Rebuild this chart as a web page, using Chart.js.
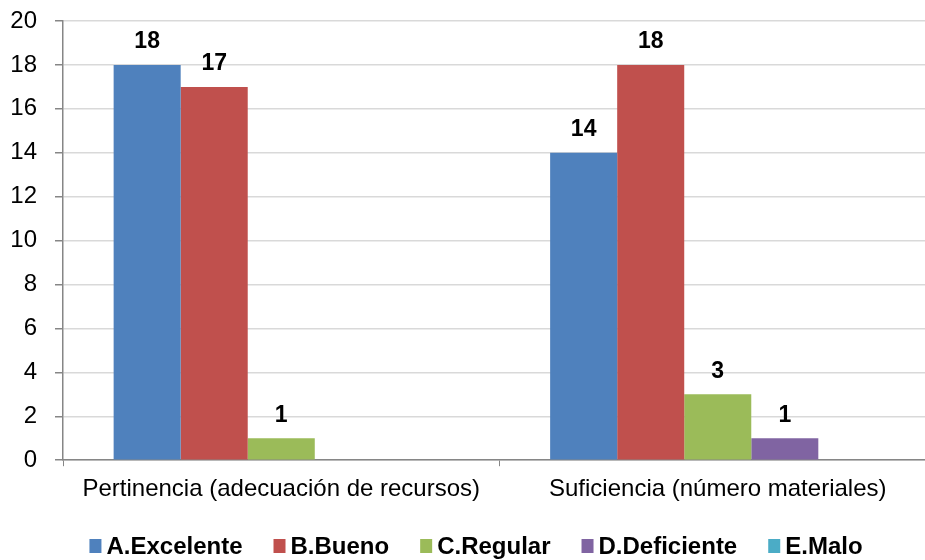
<!DOCTYPE html>
<html>
<head>
<meta charset="utf-8">
<script src="https://cdn.jsdelivr.net/npm/chart.js@4.4.0/dist/chart.umd.min.js"></script>
<style>
html,body{margin:0;padding:0;background:#fff;overflow:hidden;}
#wrap{position:absolute;left:0;top:0;width:942px;height:560px;}
</style>
</head>
<body>
<div id="wrap"><canvas id="c"></canvas></div>
<script>
const categories = ["Pertinencia (adecuación de recursos)", "Suficiencia (número materiales)"];
const seriesNames = ["A.Excelente", "B.Bueno", "C.Regular", "D.Deficiente", "E.Malo"];
const excelente = [18, 14];
const bueno = [17, 18];
const regular = [1, 3];
const deficiente = [0, 1];
const malo = [0, 0];
const colors = ["#4F81BD", "#C0504D", "#9BBB59", "#8064A2", "#4BACC6"];
const yTicks = [0, 2, 4, 6, 8, 10, 12, 14, 16, 18, 20];

const FONT = "'Liberation Sans', Arial, sans-serif";
const allSeries = [excelente, bueno, regular, deficiente, malo];

const dataLabels = {
  id: 'dataLabels',
  afterDatasetsDraw(chart) {
    const ctx = chart.ctx;
    ctx.save();
    ctx.font = "bold 23px " + FONT;
    ctx.fillStyle = "#000";
    ctx.textAlign = "center";
    ctx.textBaseline = "middle";
    chart.data.datasets.forEach((ds, i) => {
      const meta = chart.getDatasetMeta(i);
      meta.data.forEach((bar, j) => {
        const v = ds.data[j];
        if (v > 0) ctx.fillText(String(v), bar.x, bar.y - 23);
      });
    });
    ctx.restore();
  }
};

// custom legend: small square, short gap, bold label
const customLegend = {
  id: 'customLegend',
  afterDraw(chart) {
    const ctx = chart.ctx;
    ctx.save();
    ctx.font = "bold 24px " + FONT;
    ctx.textBaseline = "middle";
    ctx.textAlign = "left";
    const box = 12, gap = 5, spacing = 31;
    const items = chart.data.datasets.map(ds => ({ text: ds.label, color: ds.backgroundColor, w: ctx.measureText(ds.label).width }));
    let total = items.reduce((s, it) => s + box + gap + it.w, 0) + spacing * (items.length - 1);
    let x = 476 - total / 2;
    const y = 546;
    items.forEach(it => {
      ctx.fillStyle = it.color;
      ctx.fillRect(x, y - 7, box, 14);
      ctx.fillStyle = "#000";
      ctx.fillText(it.text, x + box + gap, y + 1);
      x += box + gap + it.w + spacing;
    });
    ctx.restore();
  }
};

new Chart(document.getElementById('c'), {
  type: 'bar',
  data: {
    labels: categories,
    datasets: seriesNames.map((n, i) => ({
      label: n,
      data: allSeries[i],
      backgroundColor: colors[i],
      borderWidth: 0,
      categoryPercentage: 0.768,
      barPercentage: 1.0
    }))
  },
  options: {
    responsive: true,
    maintainAspectRatio: false,
    animation: false,
    layout: { padding: { left: 4, right: 6, top: 0, bottom: 47 } },
    plugins: {
      tooltip: { enabled: false },
      legend: { display: false }
    },
    scales: {
      y: {
        min: 0, max: 20,
        afterBuildTicks(axis) { axis.ticks = yTicks.map(v => ({ value: v })); },
        afterFit(axis) { axis.width = 59; axis.paddingTop = 21; axis.paddingBottom = 15; },
        ticks: { color: "#000", padding: 18, font: { family: FONT, size: 24 } },
        grid: { color: "#D9D9D9", lineWidth: 1.5, tickColor: "#868686", tickLength: 8 },
        border: { color: "#868686", width: 1.5 }
      },
      x: {
        ticks: { color: "#000", padding: 9, font: { family: FONT, size: 24 } },
        grid: { drawOnChartArea: false, drawTicks: true, tickLength: 6, tickColor: "#868686", offset: true },
        border: { color: "#868686", width: 1.5 }
      }
    }
  },
  plugins: [dataLabels, customLegend]
});
</script>
</body>
</html>
